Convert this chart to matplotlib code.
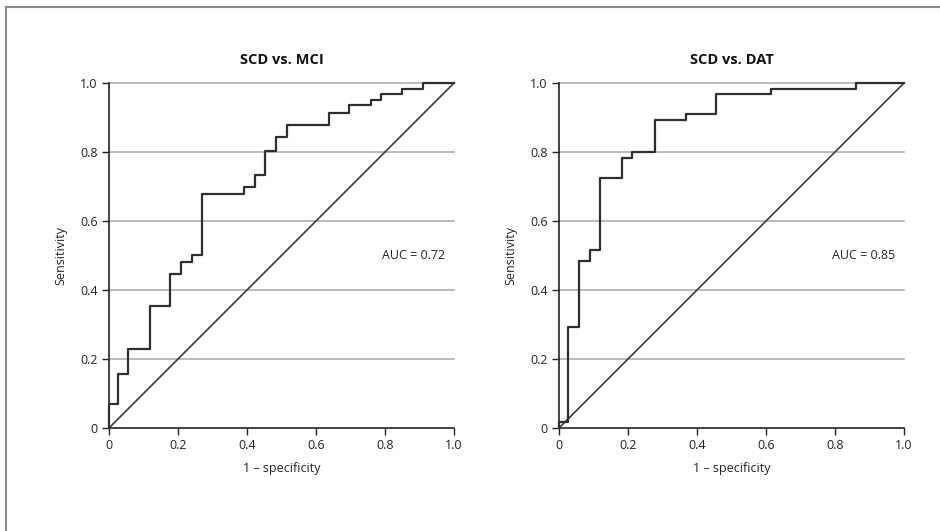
import matplotlib.pyplot as plt
from matplotlib.patches import Rectangle

plt.rcParams['font.family'] = ['Open Sans', 'DejaVu Sans']

# ROC step curves (1 - specificity, sensitivity)
mci_fpr = [0, 0, 0.027, 0.027, 0.056, 0.056, 0.119, 0.119, 0.178, 0.178, 0.208, 0.208,
           0.240, 0.240, 0.270, 0.270, 0.391, 0.391, 0.422, 0.422, 0.451, 0.451, 0.483,
           0.483, 0.515, 0.515, 0.639, 0.639, 0.697, 0.697, 0.759, 0.759, 0.788, 0.788,
           0.850, 0.850, 0.911, 0.911, 1.0]
mci_tpr = [0, 0.07, 0.07, 0.157, 0.157, 0.23, 0.23, 0.355, 0.355, 0.447, 0.447, 0.48,
           0.48, 0.502, 0.502, 0.679, 0.679, 0.699, 0.699, 0.732, 0.732, 0.804, 0.804,
           0.843, 0.843, 0.877, 0.877, 0.913, 0.913, 0.936, 0.936, 0.952, 0.952, 0.969,
           0.969, 0.984, 0.984, 1.0, 1.0]

dat_fpr = [0, 0, 0.027, 0.027, 0.058, 0.058, 0.090, 0.090, 0.119, 0.119, 0.182, 0.182,
           0.212, 0.212, 0.277, 0.277, 0.369, 0.369, 0.456, 0.456, 0.615, 0.615, 0.860,
           0.860, 1.0]
dat_tpr = [0, 0.017, 0.017, 0.292, 0.292, 0.483, 0.483, 0.517, 0.517, 0.725, 0.725,
           0.783, 0.783, 0.80, 0.80, 0.892, 0.892, 0.911, 0.911, 0.969, 0.969, 0.984,
           0.984, 1.0, 1.0]

titles = ['SCD vs. MCI', 'SCD vs. DAT']
auc_labels = ['AUC = 0.72', 'AUC = 0.85']
ticks = [0, 0.2, 0.4, 0.6, 0.8, 1.0]
tick_labels = ['0', '0.2', '0.4', '0.6', '0.8', '1.0']

fig = plt.figure(figsize=(9.4, 5.31), dpi=100)
fig.patches.append(Rectangle((6 / 940, -0.1), 1.1, (531 - 7) / 531 + 0.1,
                             transform=fig.transFigure, fill=False,
                             edgecolor='#8a8a8a', linewidth=1.5))

lefts = [109 / 940, 559 / 940]
curves = [(mci_fpr, mci_tpr), (dat_fpr, dat_tpr)]

for left, (fpr, tpr), title, auc in zip(lefts, curves, titles, auc_labels):
    ax = fig.add_axes([left, 103 / 531, 345 / 940, 345 / 531])
    for y in ticks[1:]:
        ax.plot([0, 1], [y, y], color='#a8a8a8', linewidth=1.1, zorder=1, clip_on=False)
    ax.plot([0, 1], [0, 1], color='#3a3a3a', linewidth=1.2, zorder=2)
    ax.plot(fpr, tpr, color='#2e2e2e', linewidth=1.6, zorder=3, clip_on=False)
    ax.set_xlim(0, 1)
    ax.set_ylim(0, 1)
    ax.set_xticks(ticks)
    ax.set_xticklabels(tick_labels)
    ax.set_yticks(ticks)
    ax.set_yticklabels(tick_labels)
    for s in ['top', 'right']:
        ax.spines[s].set_visible(False)
    for s in ['left', 'bottom']:
        ax.spines[s].set_color('#222222')
        ax.spines[s].set_linewidth(1.2)
    ax.tick_params(direction='out', length=5, width=1, colors='#222222',
                   labelsize=9, pad=3)
    ax.set_xlabel('1 \u2013 specificity', fontsize=9, color='#222222', labelpad=7)
    ax.set_ylabel('Sensitivity', fontsize=9, color='#222222', labelpad=9)
    ax.set_title(title, fontsize=10.5, fontweight='bold', color='#111111', pad=14)
    ax.text(0.975, 0.5, auc, ha='right', va='center', fontsize=9, color='#222222')

plt.savefig('out.png', dpi=100)
